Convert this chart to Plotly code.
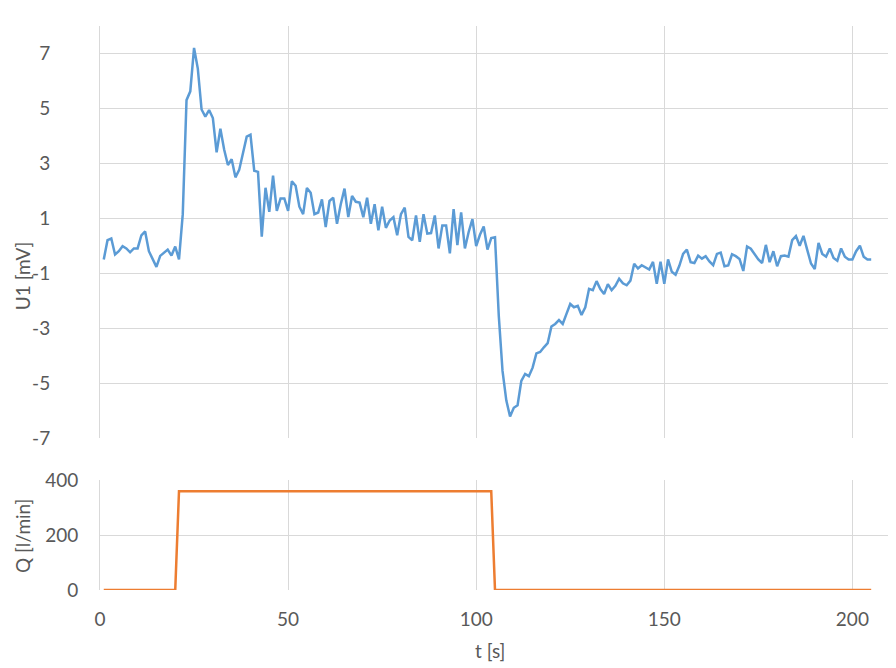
import plotly.graph_objects as go

# time axis [s] (1 s sampling)
t_s = list(range(1, 206))

# U1 [mV], t = 1..205
u1_mv = [
    -0.5, 0.2, 0.26, -0.32, -0.2, -0.02, -0.1, -0.24, -0.1, -0.1,
    0.38, 0.52, -0.2, -0.48, -0.77, -0.37, -0.25, -0.14, -0.36, -0.03,
    -0.5, 1.15, 5.3, 5.62, 7.2, 6.45, 4.96, 4.7, 4.94, 4.65,
    3.4, 4.26, 3.5, 2.94, 3.15, 2.49, 2.76, 3.42, 3.97, 4.04,
    2.73, 2.69, 0.33, 2.11, 1.23, 2.55, 1.27, 1.72, 1.72, 1.27,
    2.35, 2.18, 1.42, 1.15, 2.1, 1.93, 1.15, 1.21, 1.69, 0.68,
    1.63, 1.75, 0.8, 1.51, 2.08, 1.04, 1.81, 1.6, 1.57, 1.04,
    1.75, 0.8, 1.51, 0.56, 1.42, 0.65, 0.92, 1.04, 0.38, 1.15,
    1.39, 0.32, 0.2, 1.1, 0.14, 1.15, 0.44, 0.46, 1.1, -0.1,
    0.74, 0.74, -0.28, 1.33, 0.02, 1.21, -0.1, 0.5, 0.97, -0.01,
    0.4, 0.7, -0.14, 0.28, 0.31, -2.54, -4.56, -5.63, -6.22, -5.9,
    -5.81, -4.92, -4.67, -4.75, -4.44, -3.92, -3.87, -3.7, -3.55, -2.94,
    -2.85, -2.71, -2.85, -2.48, -2.12, -2.24, -2.19, -2.52, -2.24, -1.57,
    -1.62, -1.29, -1.58, -1.76, -1.4, -1.62, -1.46, -1.2, -1.37, -1.44,
    -1.27, -0.66, -0.83, -0.71, -0.78, -0.87, -0.59, -1.39, -0.58, -1.39,
    -0.5, -0.95, -1.06, -0.73, -0.3, -0.14, -0.6, -0.63, -0.36, -0.47,
    -0.38, -0.57, -0.71, -0.3, -0.25, -0.75, -0.72, -0.31, -0.38, -0.48,
    -0.92, -0.03, -0.11, -0.3, -0.5, -0.63, 0.03, -0.6, -0.2, -0.75,
    -0.38, -0.36, -0.4, 0.2, 0.35, 0.0, 0.36, -0.15, -0.65, -0.85,
    0.1, -0.3, -0.4, -0.1, -0.45, -0.55, -0.1, -0.4, -0.5, -0.5,
    -0.2, 0.0, -0.4, -0.5, -0.5,
]

# Q [l/min] step profile (breakpoints)
q_t = [1, 20, 21, 104, 105, 205]
q_val = [0, 0, 360, 360, 0, 0]

x_ticks = [0, 50, 100, 150, 200]
x_tick_labels = ["0", "50", "100", "150", "200"]
u_ticks = [-7, -5, -3, -1, 1, 3, 5, 7]
u_tick_labels = ["-7", "-5", "-3", "-1", "1", "3", "5", "7"]
q_ticks = [0, 200, 400]
q_tick_labels = ["0", "200", "400"]

FONT = "Lato"
GRAY = "#595959"
GRID = "#d9d9d9"

fig = go.Figure()
fig.add_trace(go.Scatter(x=t_s, y=u1_mv, mode="lines",
                         line=dict(color="#5B9BD5", width=2.5),
                         xaxis="x", yaxis="y", showlegend=False))
fig.add_trace(go.Scatter(x=q_t, y=q_val, mode="lines",
                         line=dict(color="#ED7D31", width=2.5),
                         xaxis="x2", yaxis="y2", showlegend=False))

common_x = dict(range=[0, 210], tickmode="array", tickvals=x_ticks,
                ticktext=x_tick_labels,
                showgrid=True, gridcolor=GRID, gridwidth=1, zeroline=False,
                ticks="", showline=False)

fig.update_layout(
    width=888, height=660,
    margin=dict(l=92, r=6, t=7, b=78),
    paper_bgcolor="white", plot_bgcolor="white",
    font=dict(family=FONT, size=19, color=GRAY),
    xaxis=dict(**common_x, anchor="y", showticklabels=False),
    xaxis2=dict(**common_x, anchor="y2", showticklabels=True,
                ticklabelstandoff=16),
    yaxis=dict(domain=[0.26957, 1], range=[-7, 8], tickmode="array",
               tickvals=u_ticks, ticktext=u_tick_labels,
               showgrid=True, gridcolor=GRID,
               zeroline=False, ticks="", showline=True, linecolor=GRID,
               ticklabelstandoff=45),
    yaxis2=dict(domain=[0, 0.19478], range=[0, 400], tickmode="array",
                tickvals=q_ticks, ticktext=q_tick_labels,
                showgrid=True, gridcolor=GRID,
                zeroline=False, ticks="", showline=True, linecolor=GRID,
                ticklabelstandoff=17),
    annotations=[
        dict(text="U1 [mV]", xref="paper", yref="paper", x=-0.0987, y=0.5565,
             textangle=-90, showarrow=False, font=dict(size=19, color=GRAY),
             xanchor="center", yanchor="middle"),
        dict(text="Q [l/min]", xref="paper", yref="paper", x=-0.0987, y=0.0957,
             textangle=-90, showarrow=False, font=dict(size=19, color=GRAY),
             xanchor="center", yanchor="middle"),
        dict(text="t [s]", xref="paper", yref="paper", x=0.4937, y=-0.1078,
             showarrow=False, font=dict(size=19, color=GRAY),
             xanchor="center", yanchor="middle"),
    ],
)

fig.write_html("out.html")
